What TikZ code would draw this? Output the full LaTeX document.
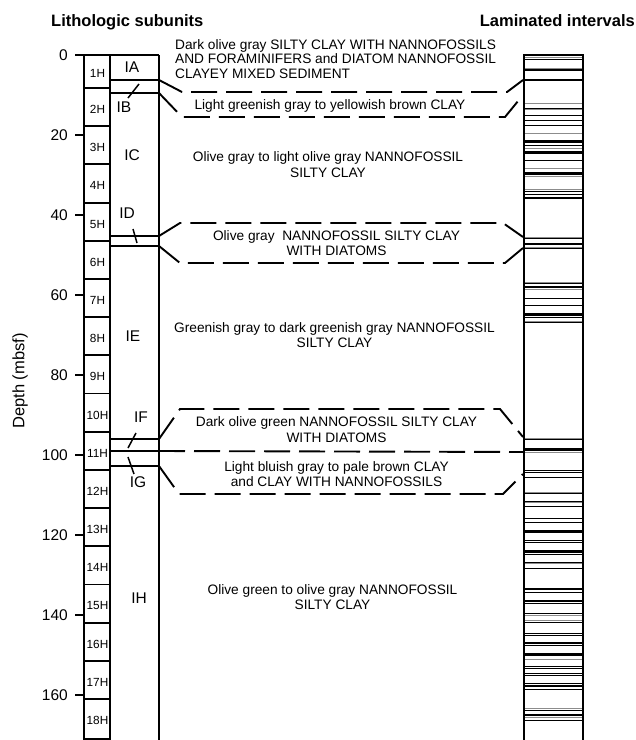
\documentclass[tikz,border=0pt]{standalone}
\usepackage{fontspec}
\setmainfont{Liberation Sans}
\usetikzlibrary{positioning}

\begin{document}
\begin{tikzpicture}[
    x=1pt, y=-1pt,
    header/.style={
        font=\fontsize{16.5}{19}\selectfont\bfseries,
        inner sep=0pt
    },
    depthnum/.style={
        font=\fontsize{15.5}{18}\selectfont,
        inner sep=0pt,
        anchor=east
    },
    corelabel/.style={
        font=\fontsize{11.8}{14}\selectfont,
        inner sep=0pt
    },
    unitlabel/.style={
        font=\fontsize{15.5}{18}\selectfont,
        inner sep=0pt
    },
    desc/.style={
        font=\fontsize{13.7}{15.5}\selectfont,
        inner sep=0pt,
        align=center
    },
    outline/.style={line width=1.9pt},
    bandline/.style={line width=1.9pt, dash pattern=on 26pt off 9pt},
    leader/.style={line width=1.5pt},
    lamthin/.style={line width=0.9pt},
    lamgray/.style={line width=0.9pt, black!45},
    lamthick/.style={line width=1.9pt}
]
    \useasboundingbox (0,0) rectangle (636,740);

    % Headers
    \node[header, anchor=base west] (hdrunits) at (51,26.7) {Lithologic subunits};
    \node[header, anchor=base east] (hdrlam) at (635,26.7) {Laminated intervals};

    % Depth axis
    \node[font=\fontsize{16.5}{19}\selectfont, rotate=90, inner sep=0pt] (depthaxis) at (20,381) {Depth (mbsf)};
    \foreach \d in {0,20,...,160} {
        \draw[outline] (75,55+4*\d) -- (84,55+4*\d);
        \node[depthnum] (depth\d) at (68,55+4*\d) {\d};
    }

    % Core column
    \draw[outline] (75,55) -- (159,55);
    \draw[outline] (84,55) -- (84,740);
    \draw[outline] (110,55) -- (110,740);
    \draw[outline] (159,55) -- (159,740);
    \node[corelabel] (core1) at (97.5,73) {1H};
    \foreach \k in {2,...,18} {
        \pgfmathsetmacro\ytop{88+38.19*(\k-2)}
        \draw[outline] (84,\ytop) -- (110,\ytop);
        \node[corelabel] (core\k) at (97.5,\ytop+21.5) {\k H};
    }
    \draw[outline] (84,739) -- (110,739);

    % Subunit boundaries
    \foreach \y in {80,93,236,246,439,451,466}
        \draw[outline] (110,\y) -- (159,\y);

    % Subunit labels
    \node[unitlabel] (unitIA) at (132,67) {IA};
    \node[unitlabel] (unitIB) at (124,107) {IB};
    \node[unitlabel] (unitIC) at (132,155) {IC};
    \node[unitlabel] (unitID) at (127,213) {ID};
    \node[unitlabel] (unitIE) at (133,336) {IE};
    \node[unitlabel] (unitIF) at (141,417) {IF};
    \node[unitlabel] (unitIG) at (138,482) {IG};
    \node[unitlabel] (unitIH) at (139,598) {IH};

    % Leaders into thin subunits
    \coordinate (ibfoot) at (128,98);   \coordinate (ibband) at (139,84);
    \coordinate (idfoot) at (133,229);  \coordinate (idband) at (137,243);
    \coordinate (iffoot) at (136,433);  \coordinate (ifband) at (128,448);
    \coordinate (igfoot) at (134,474);  \coordinate (igband) at (128,457);
    \draw[leader] (ibfoot) -- (ibband);
    \draw[leader] (idfoot) -- (idband);
    \draw[leader] (iffoot) -- (ifband);
    \draw[leader] (igfoot) -- (igband);

    % Laminated intervals column
    \draw[outline] (524,740) -- (524,55) -- (583,55) -- (583,740);
    \foreach \y in {59,108,115,120,125,140,145,153,160,172,191,194,238,243,248,283,298,305,313,317,322,
                    439,448,470,472,477,493,501,506,518,522,530,540,542,550,554,562,568,592,603,613,
                    622,633,635,645,653,666,668,673,675,683,689,710,720}
        \draw[lamthin] (524,\y) -- (583,\y);
    \foreach \y in {57,68,103,109,133,148,168,176,189,237,247,282,289,321,438,452,492,502,563,615,620,659,708,717}
        \draw[lamgray] (525,\y) -- (582,\y);
    \foreach \y in {70,80,142,152,174,198,244,287,315,450,532,552,589,601,643,655,686,715}
        \draw[lamthick] (524,\y) -- (583,\y);

    % Dashed correlation bands
    \draw[bandline] (159,80) -- (182,92) -- (507,92) -- (523,80);
    \draw[bandline] (159,93) -- (182,117) -- (505,117) -- (523,95);
    \draw[bandline] (159,236) -- (180,223) -- (503,223) -- (523,237);
    \draw[bandline] (159,246) -- (180,263) -- (505,263) -- (523,248);
    \draw[bandline] (159,439) -- (180,409) -- (500,409) -- (523,437);
    \draw[bandline] (159,451) -- (523,452);
    \draw[bandline] (159,466) -- (179,494) -- (503,494) -- (523,474);

    % Descriptions
    \node[desc, align=left, anchor=west, font=\fontsize{13.7}{14.2}\selectfont] (descIA) at (175,59)
        {Dark olive gray SILTY CLAY WITH NANNOFOSSILS\\AND FORAMINIFERS and DIATOM NANNOFOSSIL\\CLAYEY MIXED SEDIMENT};
    \node[desc, anchor=base] (descIB) at (330,109) {Light greenish gray to yellowish brown CLAY};
    \node[desc] (descIC) at (328,164.5) {Olive gray to light olive gray NANNOFOSSIL\\SILTY CLAY};
    \node[desc] (descID) at (336.5,243) {Olive gray~ NANNOFOSSIL SILTY CLAY\\WITH DIATOMS};
    \node[desc] (descIE) at (334.5,335) {Greenish gray to dark greenish gray NANNOFOSSIL\\SILTY CLAY};
    \node[desc] (descIF) at (336.5,429.5) {Dark olive green NANNOFOSSIL SILTY CLAY\\WITH DIATOMS};
    \node[desc] (descIG) at (336.5,474) {Light bluish gray to pale brown CLAY\\and CLAY WITH NANNOFOSSILS};
    \node[desc] (descIH) at (332.5,597) {Olive green to olive gray NANNOFOSSIL\\SILTY CLAY};

\end{tikzpicture}
\end{document}
